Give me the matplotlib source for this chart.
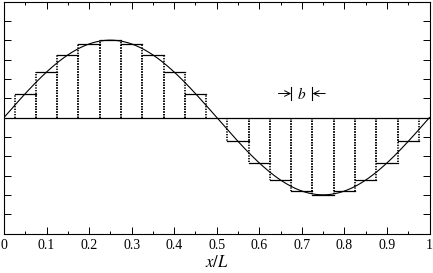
import numpy as np
import matplotlib
matplotlib.use("Agg")
import matplotlib.pyplot as plt
from matplotlib.ticker import MultipleLocator, NullFormatter

# bin edges (left, right) and step heights
bin_left = [0.025, 0.075, 0.125, 0.175, 0.225, 0.275, 0.325, 0.375, 0.425,
            0.525, 0.575, 0.625, 0.675, 0.725, 0.775, 0.825, 0.875, 0.925]
bin_right = [0.075, 0.125, 0.175, 0.225, 0.275, 0.325, 0.375, 0.425, 0.475,
             0.575, 0.625, 0.675, 0.725, 0.775, 0.825, 0.875, 0.925, 0.975]
heights = [0.31, 0.59, 0.81, 0.95, 1.00, 0.95, 0.81, 0.59, 0.31,
           -0.31, -0.59, -0.81, -0.95, -1.00, -0.95, -0.81, -0.59, -0.31]
xtick_labels = ["0", "0.1", "0.2", "0.3", "0.4", "0.5", "0.6", "0.7", "0.8", "0.9", "1"]
xtick_pos = [0.0, 0.1, 0.2, 0.3, 0.4, 0.5, 0.6, 0.7, 0.8, 0.9, 1.0]

plt.rcParams['font.family'] = ['Liberation Serif', 'DejaVu Serif']
plt.rcParams['mathtext.fontset'] = 'stix'

fig = plt.figure(figsize=(4.33, 2.73), dpi=100)
ax = fig.add_axes([4/433, 1 - 233.5/273, 425.5/433, 232/273])

# exact sine curve
xs = np.linspace(0, 1, 400)
ax.plot(xs, np.sin(2*np.pi*xs), color='black', lw=0.8)
# zero line
ax.plot([0, 1], [0, 0], color='black', lw=0.9)

for l, r, h in zip(bin_left, bin_right, heights):
    ax.plot([l, r], [h, h], color='black', lw=0.9)
    for e in (l, r):
        ax.plot([e, e], [0, h], color='black', lw=1.2, linestyle=(0, (0.8, 0.8)))

# b annotation
ax.plot([0.675, 0.675], [0.22, 0.40], color='black', lw=0.8)
ax.plot([0.725, 0.725], [0.22, 0.40], color='black', lw=0.8)
ax.annotate('', xy=(0.675, 0.31), xytext=(0.645, 0.31),
            arrowprops=dict(arrowstyle='->', color='black', lw=0.7, shrinkA=0, shrinkB=0))
ax.annotate('', xy=(0.725, 0.31), xytext=(0.755, 0.31),
            arrowprops=dict(arrowstyle='->', color='black', lw=0.7, shrinkA=0, shrinkB=0))
ax.text(0.70, 0.31, '$b$', ha='center', va='center', fontsize=11)

ax.set_xlim(0, 1)
ax.set_ylim(-1.5, 1.5)
ax.set_xticks(xtick_pos)
ax.set_xticklabels(xtick_labels)
ax.xaxis.set_minor_locator(MultipleLocator(0.05))
ax.yaxis.set_major_locator(MultipleLocator(0.25))
ax.yaxis.set_major_formatter(NullFormatter())
ax.tick_params(which='both', direction='in', top=True, right=True, labelsize=10, width=0.7)
ax.tick_params(which='major', length=5)
ax.tick_params(which='minor', length=2.5)
ax.tick_params(axis='x', pad=4)
for s in ax.spines.values():
    s.set_linewidth(0.8)

ax.set_xlabel('$x/L$', fontsize=12, labelpad=2)

fig.savefig('out.png', dpi=100)
